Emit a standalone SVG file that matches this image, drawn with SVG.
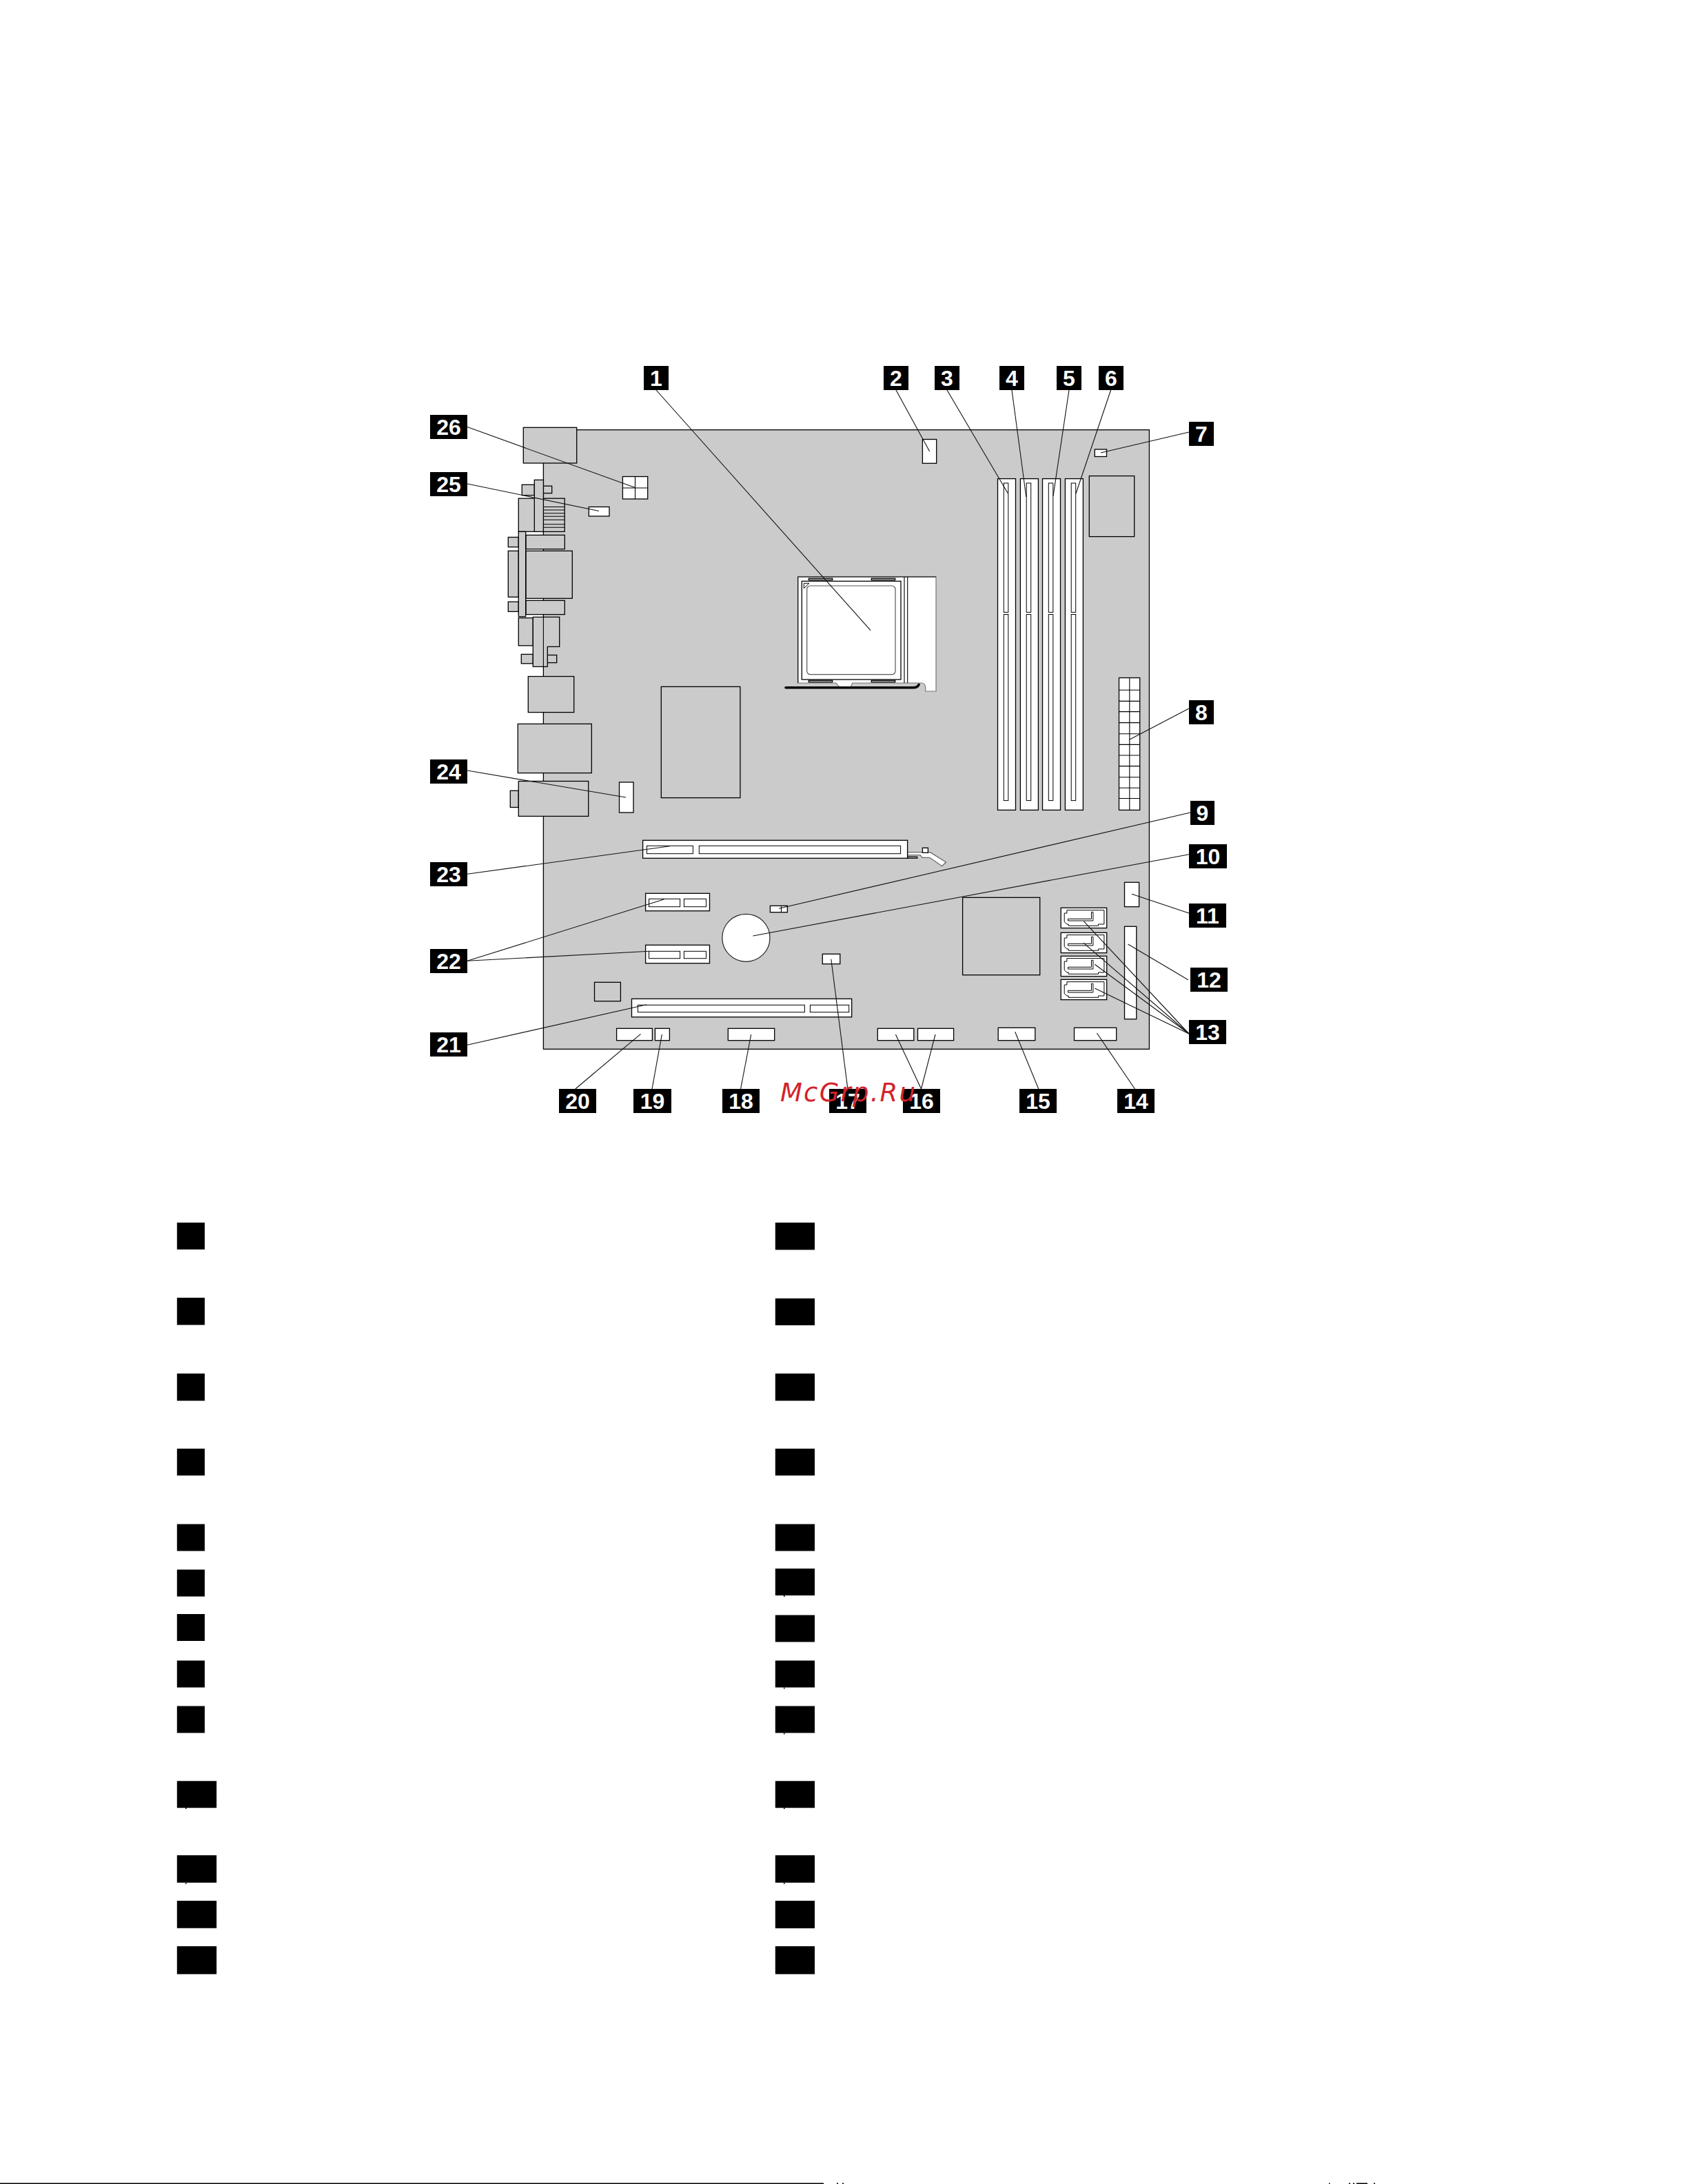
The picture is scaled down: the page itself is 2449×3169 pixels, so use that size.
<svg xmlns="http://www.w3.org/2000/svg" width="2449" height="3169" viewBox="0 0 2449 3169">
<defs>
<style>
.g{fill:#cbcbcb;stroke:#000;stroke-width:1.3}
.w{fill:#fff;stroke:#000;stroke-width:1.3}
.t{fill:#fff;stroke:#000;stroke-width:1}
.s{fill:none;stroke:#000;stroke-width:1.1}
.b{fill:#000}
.n{fill:#fff;font-family:"Liberation Sans",Arial,sans-serif;font-weight:700;font-size:32px;text-anchor:middle}
#connectors line{stroke:#111;stroke-width:1.1;fill:none}
</style>
<g id="sata"><rect class="w" x="0" y="0" width="66.5" height="29.3"/><path class="t" d="M8.7 3.3H62.7V23.7H54.3V26H11V23.7H8.7L5 20.3V7.7H8.7Z"/><path class="t" d="M44.3 6H46.7V18.7H10.3V16H44.3Z"/></g>
<g id="dimm"><rect class="w" x="0" y="694.6" width="26" height="480.8"/><rect class="t" x="8.8" y="701" width="6.5" height="187.4"/><rect class="t" x="8.8" y="891.5" width="6.5" height="270.1"/></g>
</defs>
<rect width="2449" height="3169" fill="#fff"/>
<g id="board">
<rect class="g" x="788.4" y="623.7" width="879" height="898.6"/>
</g>
<g id="rear-ports">
<rect class="g" x="759.3" y="620.3" width="77.4" height="51.7"/>
<rect class="g" x="757.3" y="703.3" width="18" height="15.4"/>
<rect class="g" x="788.4" y="705.2" width="12.3" height="10.4"/>
<rect class="g" x="752.3" y="723.2" width="66.9" height="48.2"/>
<path class="s" d="M788.4 735.5H819M788.4 740H819M788.4 744.7H819M788.4 749.3H819M788.4 754.2H819M788.4 760.7H819M788.4 765.3H819"/>
<rect class="g" x="775.3" y="696.4" width="13.1" height="75"/>
<rect class="g" x="737.3" y="779.5" width="15" height="14.2"/>
<rect class="g" x="763" y="776.4" width="56.3" height="20.3"/>
<rect class="g" x="737.3" y="799.4" width="15" height="66.9"/>
<rect class="g" x="763" y="799.4" width="67.3" height="68.9"/>
<rect class="g" x="737.3" y="873.2" width="15" height="14.2"/>
<rect class="g" x="763" y="871.3" width="56.3" height="20.3"/>
<rect class="g" x="752.3" y="771.4" width="10.4" height="123.3"/>
<rect class="g" x="752.3" y="896.6" width="21" height="40.2"/>
<rect class="g" x="756.3" y="949.4" width="17" height="13.4"/>
<rect class="g" x="794.3" y="950.5" width="13.4" height="11.1"/>
<path class="g" d="M773.3 895.4H811.7V938.3H794.3V967.4H773.3Z"/>
<path class="s" d="M788.4 895.4V967.4"/>
<rect class="g" x="766.3" y="981.5" width="66.4" height="52.1"/>
<rect class="g" x="751.3" y="1050.4" width="107" height="71.2"/>
<rect class="g" x="740.3" y="1147.3" width="12" height="24.2"/>
<rect class="g" x="752.3" y="1133.5" width="101.4" height="50.9"/>
</g>
<g id="chips">
<rect class="g" x="959.3" y="996.4" width="114.6" height="161.2"/>
<rect class="g" x="1580.3" y="690.6" width="65.4" height="88"/>
<rect class="g" x="1396.6" y="1302.3" width="112.1" height="112.4"/>
<rect class="g" x="862.5" y="1425.3" width="37.9" height="27.4"/>
</g>
<g id="cpu-socket">
<path d="M1157.7 837H1358V1003H1342.7V997Q1342 991 1337 991H1236.7L1234 996.7H1217.7L1212.7 991H1157.7Z" fill="#fff" stroke="#777" stroke-width="1.2"/>
<path class="s" d="M1157.7 991V837H1358M1312 837V991M1316.7 837V991"/>
<rect class="w" x="1163.3" y="843.3" width="143.7" height="142.7"/>
<rect x="1170.7" y="850" width="128.3" height="128.7" rx="5" fill="#fff" stroke="#555" stroke-width="1.2"/>
<path class="t" d="M1166.3 846.3H1174L1166.3 853.7Z"/>
<rect class="g" x="1173.3" y="839.3" width="34.4" height="2.4" stroke-width="1"/>
<rect class="g" x="1264.3" y="839.3" width="34.4" height="2.4" stroke-width="1"/>
<rect class="g" x="1173.3" y="987.3" width="34.4" height="2.4" stroke-width="1"/>
<rect class="g" x="1264.3" y="987.3" width="34.4" height="2.4" stroke-width="1"/>
<path d="M1140 997.7H1325Q1331 997.7 1333 993.5" fill="none" stroke="#000" stroke-width="3.6" stroke-linecap="round"/>
</g>
<g id="conn-2"><rect class="w" x="1338.4" y="637.5" width="20.3" height="34.8"/></g>
<g id="dimm-slots">
<use href="#dimm" x="1447.5"/>
<use href="#dimm" x="1480.4"/>
<use href="#dimm" x="1512.5"/>
<use href="#dimm" x="1545.4"/>
</g>
<g id="conn-7"><rect class="w" x="1588.3" y="652" width="17.2" height="10.5"/></g>
<g id="conn-8"><rect class="w" x="1623.5" y="983.5" width="30.2" height="191.9"/>
<path class="s" d="M1638.8 983.5V1175.4M1623.5 1001.3H1653.7M1623.5 1017.4H1653.7M1623.5 1032.6H1653.7M1623.5 1048.6H1653.7M1623.5 1064.7H1653.7M1623.5 1080.4H1653.7M1623.5 1096H1653.7M1623.5 1111.6H1653.7M1623.5 1127.7H1653.7M1623.5 1143.3H1653.7M1623.5 1158.5H1653.7"/></g>
<g id="conn-9"><rect class="w" x="1117.4" y="1314.3" width="25" height="9.4"/><path class="s" d="M1133.5 1314.3V1323.7"/></g>
<g id="battery"><ellipse cx="1082.4" cy="1360.8" rx="34.6" ry="34.5" fill="#fff" stroke="#222" stroke-width="1.2"/></g>
<g id="conn-11"><rect class="w" x="1631.5" y="1280.3" width="21.1" height="35.4"/></g>
<g id="conn-12"><rect class="w" x="1631.5" y="1344.3" width="17.3" height="134.4"/></g>
<g id="conn-13">
<use href="#sata" x="1539.2" y="1317.3"/>
<use href="#sata" x="1539.2" y="1353.3"/>
<use href="#sata" x="1539.2" y="1387.3"/>
<use href="#sata" x="1539.2" y="1421.3"/>
</g>
<g id="conn-14"><rect class="w" x="1558.5" y="1491.3" width="61.2" height="18.4"/></g>
<g id="conn-15"><rect class="w" x="1448.2" y="1491.3" width="53.6" height="18.4"/></g>
<g id="conn-16"><rect class="w" x="1273.3" y="1492.3" width="52.5" height="17.4"/><rect class="w" x="1331.5" y="1492.3" width="52.1" height="17.4"/></g>
<g id="conn-17"><rect class="w" x="1193.3" y="1384.3" width="25.5" height="14.4"/></g>
<g id="conn-18"><rect class="w" x="1056.3" y="1492.3" width="67.4" height="17.4"/></g>
<g id="conn-19"><rect class="w" x="950.4" y="1492.3" width="21" height="17.4"/></g>
<g id="conn-20"><rect class="w" x="894.6" y="1492.3" width="51.8" height="17.4"/></g>
<g id="pci-slot"><rect class="w" x="916.5" y="1449.3" width="319.2" height="26.4"/><rect class="t" x="925.4" y="1458.3" width="242" height="10.4"/><rect class="t" x="1175.4" y="1458.3" width="56.3" height="10.4"/></g>
<g id="pcie-x1">
<rect class="w" x="936.6" y="1296.3" width="92.9" height="25.4"/><rect class="t" x="941.5" y="1304.3" width="45.1" height="11.4"/><rect class="t" x="992.4" y="1304.3" width="32.1" height="11.4"/>
<rect class="w" x="936.6" y="1371.3" width="92.9" height="26.4"/><rect class="t" x="941.5" y="1380.3" width="45.1" height="10.4"/><rect class="t" x="992.4" y="1380.3" width="32.1" height="10.4"/>
</g>
<g id="pcie-x16">
<path d="M1316.6 1236.7H1349.5L1372.5 1251L1366.7 1256.7L1348.7 1244.3H1338L1335 1240.7H1316.6Z" fill="#fff" stroke="#666" stroke-width="1.3"/>
<rect class="w" x="1316.6" y="1243.3" width="14.1" height="2" stroke-width="1"/>
<rect class="w" x="932.6" y="1219.3" width="384" height="26"/>
<rect class="t" x="938.4" y="1227.3" width="67" height="11.4"/>
<rect class="t" x="1014.3" y="1227.3" width="292.3" height="11.4"/>
<rect class="w" x="1338.4" y="1230.3" width="8" height="7"/>
</g>
<g id="conn-24"><rect class="w" x="898.5" y="1135" width="20.5" height="44"/></g>
<g id="conn-25"><rect class="w" x="854.3" y="735.5" width="29.7" height="13.5"/></g>
<g id="conn-26"><rect class="w" x="903.4" y="691.5" width="36.3" height="32.5"/><path class="s" d="M921.5 691.5V724M903.4 708H939.7"/></g>
<g id="connectors">
<line x1="952" y1="566" x2="1263" y2="914.7"/>
<line x1="1300" y1="566" x2="1348.7" y2="655"/>
<line x1="1374" y1="566" x2="1462.4" y2="716"/>
<line x1="1468" y1="566" x2="1488.8" y2="721"/>
<line x1="1551" y1="566" x2="1528" y2="719.6"/>
<line x1="1611.6" y1="566" x2="1561" y2="716"/>
<line x1="1725" y1="627" x2="1597" y2="657"/>
<line x1="1725" y1="1028" x2="1639" y2="1073"/>
<line x1="1727" y1="1179" x2="1130" y2="1318.3"/>
<line x1="1725" y1="1239.7" x2="1092.4" y2="1358"/>
<line x1="1725" y1="1325" x2="1642" y2="1297.3"/>
<line x1="1723.8" y1="1421.7" x2="1636.5" y2="1370"/>
<line x1="1725" y1="1500" x2="1572.2" y2="1336.7"/>
<line x1="1725" y1="1500" x2="1572.2" y2="1368.3"/>
<line x1="1725" y1="1500" x2="1588.3" y2="1399.3"/>
<line x1="1725" y1="1500" x2="1588.3" y2="1434"/>
<line x1="1646.5" y1="1580" x2="1591.4" y2="1499"/>
<line x1="1506.8" y1="1580" x2="1472.7" y2="1497.3"/>
<line x1="1336.5" y1="1580" x2="1299.4" y2="1501"/>
<line x1="1336.5" y1="1580" x2="1357" y2="1501"/>
<line x1="1229.9" y1="1580" x2="1205.8" y2="1391.7"/>
<line x1="1074.6" y1="1580" x2="1089.7" y2="1501"/>
<line x1="946" y1="1580" x2="960.3" y2="1501"/>
<line x1="834.8" y1="1580" x2="929.5" y2="1500.3"/>
<line x1="678" y1="1516.3" x2="938" y2="1457.7"/>
<line x1="678" y1="1394.3" x2="963.8" y2="1304.7"/>
<line x1="678" y1="1394.3" x2="941.5" y2="1380.3"/>
<line x1="678" y1="1268.3" x2="971.9" y2="1227.7"/>
<line x1="678" y1="1118" x2="908" y2="1157"/>
<line x1="678" y1="702" x2="869" y2="741.5"/>
<line x1="678" y1="619.6" x2="921.4" y2="707.6"/>
</g>
<g id="badge-1"><rect class="b" x="934" y="531" width="36" height="35"/><text class="n" x="952" y="560">1</text></g>
<g id="badge-2"><rect class="b" x="1282" y="531" width="36" height="35"/><text class="n" x="1300" y="560">2</text></g>
<g id="badge-3"><rect class="b" x="1356" y="531" width="36" height="35"/><text class="n" x="1374" y="560">3</text></g>
<g id="badge-4"><rect class="b" x="1450" y="531" width="36" height="35"/><text class="n" x="1468" y="560">4</text></g>
<g id="badge-5"><rect class="b" x="1533" y="531" width="36" height="35"/><text class="n" x="1551" y="560">5</text></g>
<g id="badge-6"><rect class="b" x="1594" y="531" width="36" height="35"/><text class="n" x="1612" y="560">6</text></g>
<g id="badge-7"><rect class="b" x="1725" y="612" width="36" height="35"/><text class="n" x="1743" y="641">7</text></g>
<g id="badge-8"><rect class="b" x="1725" y="1016" width="36" height="35"/><text class="n" x="1743" y="1045">8</text></g>
<g id="badge-9"><rect class="b" x="1727" y="1162" width="35" height="35"/><text class="n" x="1744.5" y="1191">9</text></g>
<g id="badge-10"><rect class="b" x="1725" y="1225" width="55" height="35"/><text class="n" x="1752.5" y="1254">10</text></g>
<g id="badge-11"><rect class="b" x="1725" y="1311" width="54" height="35"/><text class="n" x="1752" y="1340">11</text></g>
<g id="badge-12"><rect class="b" x="1727" y="1404" width="54" height="35"/><text class="n" x="1754" y="1433">12</text></g>
<g id="badge-13"><rect class="b" x="1725" y="1480" width="54" height="35"/><text class="n" x="1752" y="1509">13</text></g>
<g id="badge-14"><rect class="b" x="1621" y="1580" width="54" height="35"/><text class="n" x="1648" y="1609">14</text></g>
<g id="badge-15"><rect class="b" x="1479" y="1580" width="54" height="35"/><text class="n" x="1506" y="1609">15</text></g>
<g id="badge-16"><rect class="b" x="1310" y="1580" width="54" height="35"/><text class="n" x="1337" y="1609">16</text></g>
<g id="badge-17"><rect class="b" x="1203" y="1580" width="54" height="35"/><text class="n" x="1230" y="1609">17</text></g>
<g id="badge-18"><rect class="b" x="1048" y="1580" width="54" height="35"/><text class="n" x="1075" y="1609">18</text></g>
<g id="badge-19"><rect class="b" x="919" y="1580" width="55" height="35"/><text class="n" x="946.5" y="1609">19</text></g>
<g id="badge-20"><rect class="b" x="811" y="1580" width="54" height="35"/><text class="n" x="838" y="1609">20</text></g>
<g id="badge-21"><rect class="b" x="624" y="1498" width="54" height="35"/><text class="n" x="651" y="1527">21</text></g>
<g id="badge-22"><rect class="b" x="624" y="1377" width="54" height="35"/><text class="n" x="651" y="1406">22</text></g>
<g id="badge-23"><rect class="b" x="624" y="1251" width="54" height="35"/><text class="n" x="651" y="1280">23</text></g>
<g id="badge-24"><rect class="b" x="624" y="1102" width="54" height="35"/><text class="n" x="651" y="1131">24</text></g>
<g id="badge-25"><rect class="b" x="624" y="685" width="54" height="35"/><text class="n" x="651" y="714">25</text></g>
<g id="badge-26"><rect class="b" x="624" y="602" width="54" height="35"/><text class="n" x="651" y="631">26</text></g>
<g id="legend-boxes">
<path class="b" d="M256.8 1774h40.2v39h-40.2zM256.8 1883h40.2v39.4h-40.2zM256.8 1993h40.2v39.5h-40.2zM256.8 2102h40.2v39h-40.2zM256.8 2211.5h40.2v39h-40.2zM256.8 2277.5h40.2v39h-40.2zM256.8 2342h40.2v39h-40.2zM256.8 2409.6h40.2v39h-40.2zM256.8 2475.6h40.2v39h-40.2z"/>
<path class="b" d="M256.8 2584.2h57.4v39h-57.4zM256.8 2692h57.4v39.7h-57.4zM256.8 2758h57.4v39.7h-57.4zM256.8 2824h57.4v40.5h-57.4z"/>
<path class="b" d="M1124.8 1774h57.2v39.5h-57.2zM1124.8 1884h57.2v39h-57.2zM1124.8 1993h57.2v39.5h-57.2zM1124.8 2102h57.2v39h-57.2zM1124.8 2211.5h57.2v39h-57.2zM1124.8 2276h57.2v39h-57.2zM1124.8 2343.5h57.2v39h-57.2zM1124.8 2409.6h57.2v39h-57.2zM1124.8 2475.6h57.2v39h-57.2zM1124.8 2584.2h57.2v39h-57.2zM1124.8 2692h57.2v39.7h-57.2zM1124.8 2758h57.2v40h-57.2zM1124.8 2824h57.2v40.5h-57.2z"/>
<path class="b" d="M269 2623h1.5v2H269zM269 2731.7h1.5v2H269zM1137 2315h1.5v2H1137zM1137 2448.6h1.5v2H1137zM1137 2514.6h1.5v2H1137zM1137 2623h1.5v2H1137zM1137 2731.7h1.5v2H1137z"/>
</g>
<g id="footer">
<rect class="b" x="0" y="3167.5" width="1195" height="1.5"/>
<path class="b" d="M1214 3167.5h2v1.5h-2zM1222 3167.5h2v1.5h-2zM1928 3167.5h1.5v1.5h-1.5zM1957 3167.5h2v1.5h-2zM1963 3167.5h2v1.5h-2zM1968 3167.5h16v1.5h-16zM1993 3167.5h2v1.5h-2z"/>
</g>
<g id="watermark"><text x="1132" y="1598" font-family="'DejaVu Sans',sans-serif" font-style="italic" font-size="37" letter-spacing="2.2" fill="#d2232a">McGrp.Ru</text></g>
</svg>
